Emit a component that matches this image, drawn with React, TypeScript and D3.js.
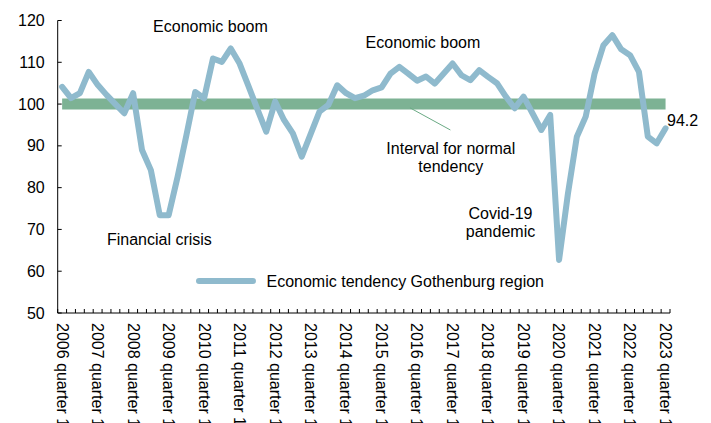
import React from "react";
import * as d3 from "d3";

// quarterly index, 2006 Q1 .. 2023 Q1
const years = d3.range(2006, 2024);
const quarters = years.flatMap(y => [1, 2, 3, 4].map(q => `${y} quarter ${q}`)).slice(0, 69);

const tendency = [
  104.1, 101.4, 102.6, 107.7, 104.6, 102.2, 100.0, 97.8,
  102.6, 89.0, 84.2, 73.4, 73.4, 82.5, 92.5, 102.9,
  101.4, 110.9, 110.1, 113.3, 109.7, 104.3, 98.8, 93.4,
  100.6, 96.2, 93.0, 87.4, 92.8, 98.2, 99.8, 104.5,
  102.6, 101.4, 102.0, 103.3, 104.0, 107.3, 108.9, 107.3,
  105.6, 106.6, 104.9, 107.3, 109.7, 106.9, 105.7, 108.1,
  106.5, 105.0, 101.8, 99.0, 101.8, 97.8, 93.8, 97.4,
  62.7, 78.6, 92.2, 97.0, 107.3, 114.1, 116.5, 113.1,
  111.7, 107.7, 92.2, 90.6, 94.2,
];

const normalLevel = 100;
const yTicks = [50, 60, 70, 80, 90, 100, 110, 120];

// annotations in data space: [position along the category axis, value]
const notes = [
  { text: ["Economic boom"], at: [10.75, 118.7], anchor: "start" },
  { text: ["Economic boom"], at: [34.7, 114.7], anchor: "start" },
  { text: ["Financial crisis"], at: [5.55, 67.5], anchor: "start" },
  { text: ["Interval for normal", "tendency"], at: [44.3, 89.5], anchor: "middle" },
  { text: ["Covid-19", "pandemic"], at: [49.9, 73.9], anchor: "middle" },
];
const leader = [[39.7, 99.1], [44.25, 93.8]];

const FONT = "Arial, 'Liberation Sans', sans-serif";
const LINE = "#8fbacd";
const GREEN = "#7db294";

export default function App() {
  const width = 711;
  const height = 423;
  const left = 57.7, right = 670, top = 20.5, bottom = 313;

  const x = d3.scaleBand<string>().domain(quarters).range([left, right]).padding(0);
  const bw = x.bandwidth();
  const cx = (q: string) => (x(q) as number) + bw / 2;
  const pos = (i: number) => left + i * bw;
  const y = d3.scaleLinear().domain([50, 120]).range([bottom, top]);

  const line = d3
    .line<number>()
    .x((_, i) => cx(quarters[i]))
    .y(d => y(d));

  const last = tendency[tendency.length - 1];
  const lastQ = quarters[quarters.length - 1];

  return (
    <svg
      width={width}
      height={height}
      style={{ position: "absolute", left: 0, top: 0, background: "#fff" }}
      fontFamily={FONT}
      fontSize={16}
    >
      {/* normal band */}
      <line
        x1={cx(quarters[0])}
        x2={cx(lastQ)}
        y1={y(normalLevel)}
        y2={y(normalLevel)}
        stroke={GREEN}
        strokeWidth={11}
      />
      <line
        x1={pos(leader[0][0])}
        y1={y(leader[0][1])}
        x2={pos(leader[1][0])}
        y2={y(leader[1][1])}
        stroke="#6aaa84"
        strokeWidth={1}
      />

      {/* series */}
      <path
        d={line(tendency) ?? ""}
        fill="none"
        stroke={LINE}
        strokeWidth={6}
        strokeLinejoin="round"
        strokeLinecap="round"
      />

      {/* y axis */}
      <line x1={left} x2={left} y1={top} y2={bottom} stroke="#000" />
      {yTicks.map(t => (
        <g key={t}>
          <line x1={left} x2={left + 4} y1={y(t)} y2={y(t)} stroke="#000" />
          <text x={left - 13} y={y(t)} dy="0.35em" textAnchor="end">
            {t}
          </text>
        </g>
      ))}

      {/* x axis */}
      <line x1={left} x2={right} y1={bottom} y2={bottom} stroke="#000" />
      {quarters.concat([""]).map((q, i) => {
        const tx = left + i * bw;
        return <line key={i} x1={tx} x2={tx} y1={bottom} y2={bottom - 4} stroke="#000" />;
      })}
      {quarters
        .filter((_, i) => i % 4 === 0)
        .map(q => (
          <text
            key={q}
            transform={`translate(${cx(q)},${bottom + 10}) rotate(90)`}
            dy="0.35em"
            textAnchor="start"
          >
            {q}
          </text>
        ))}

      {/* annotations */}
      {notes.map((n, k) => (
        <text key={k} textAnchor={n.anchor} x={pos(n.at[0])} y={y(n.at[1])}>
          {n.text.map((t, j) => (
            <tspan key={j} x={pos(n.at[0])} dy={j === 0 ? "0.35em" : "1.15em"}>
              {t}
            </tspan>
          ))}
        </text>
      ))}
      <text x={cx(lastQ) + 1.5} y={y(last) - 8.3} dy="0.35em">
        {last.toFixed(1)}
      </text>

      {/* legend */}
      <line x1={199} x2={253} y1={281} y2={281} stroke={LINE} strokeWidth={6} strokeLinecap="round" />
      <text x={266.5} y={281} dy="0.35em">
        Economic tendency Gothenburg region
      </text>
    </svg>
  );
}
